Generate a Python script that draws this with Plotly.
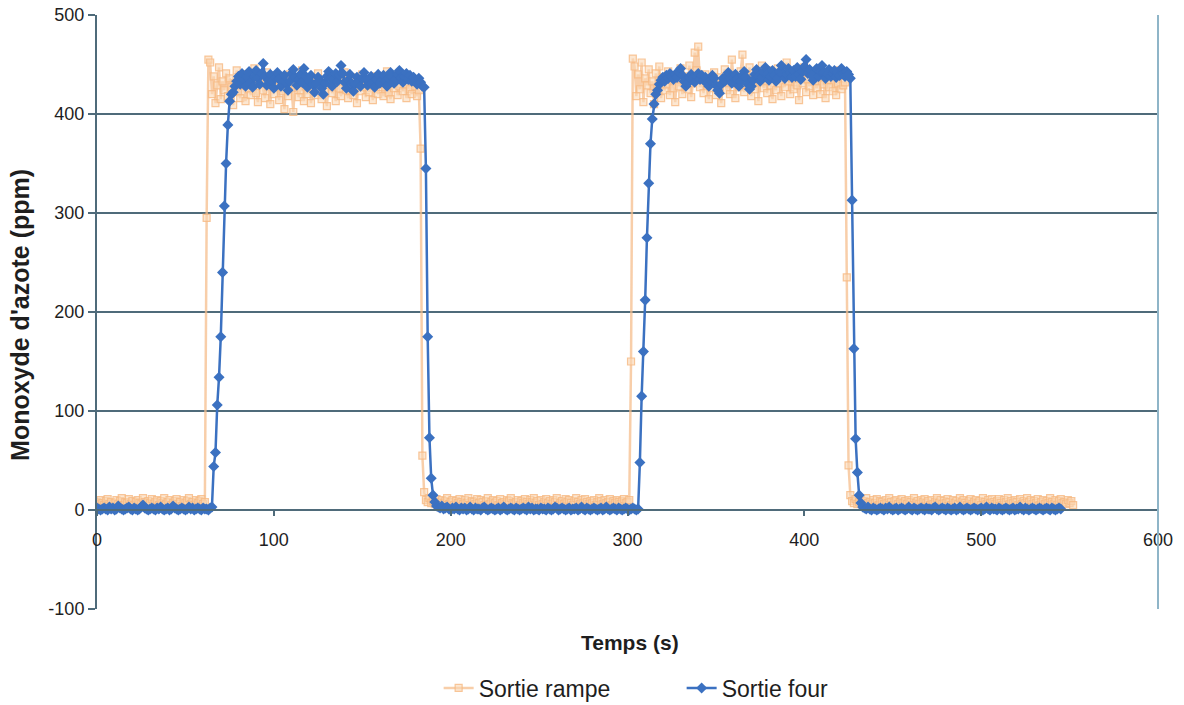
import plotly.graph_objects as go

# ---------------- data (1 s sampling) ----------------
dt = 1.0

# "Sortie four" (blue) segments
four_base1 = [2,1,0,1,2,1,0,3,1,2,
              0,1,4,2,1,0,1,2,3,1,
              0,2,1,0,1,3,5,2,1,0,
              1,2,1,0,2,1,3,1,0,1,
              2,0,1,4,2,1,0,1,2,1,
              0,1,3,1,2,0,1,2,1,0,
              2,1,1,0,2,3]
four_rise1 = [44,58,106,134,175,240,307,350,389,413,420]
four_plat1 = [422,428,433,438,430,441,435,428,437,443,
              432,427,438,444,436,430,441,451,438,429,
              434,440,433,426,437,442,435,428,432,439,
              431,424,433,441,445,437,429,435,440,432,
              446,438,427,433,439,430,422,431,437,434,
              426,420,431,438,443,436,428,435,441,433,
              439,449,441,432,426,434,440,431,423,430,
              437,433,428,436,442,435,429,433,438,432,
              427,435,440,431,434,439,433,428,436,442,
              437,431,435,440,444,436,432,438,441,435,
              439,433,437,434,430,436,432,428,427]
four_fall1 = [345,175,73,32,15,8,4]
four_base2 = [3,2,4,1,2,3,1,0,2,1,
              3,1,0,2,1,2,0,1,3,1,
              0,2,1,1,0,2,3,1,0,1,
              2,1,0,1,2,0,1,3,1,0,
              1,2,1,0,2,1,0,1,2,1,
              0,3,1,2,0,1,1,0,2,1,
              1,0,2,1,0,1,3,2,0,1,
              2,1,0,1,2,0,1,1,2,0,
              1,3,1,0,2,1,0,1,2,1,
              0,1,2,0,1,3,1,0,1,2,
              1,0,2,1,0,1,2,1,0,1,
              2,1,0,1]
four_rise2 = [48,115,160,212,275,330,370,395,410,420]
four_plat2 = [424,430,434,437,433,439,436,441,438,435,
              440,437,443,446,439,433,428,431,437,440,
              436,432,438,441,435,439,434,437,431,428,
              434,439,436,429,424,421,430,436,433,438,
              442,436,431,437,440,435,428,433,439,443,
              437,430,425,428,434,440,445,438,433,437,
              442,447,440,434,438,444,439,433,436,443,
              449,441,436,440,446,442,437,444,438,447,
              440,435,443,448,455,441,445,439,434,441,
              446,438,443,449,442,436,440,445,438,441,
              444,437,442,439,446,441,438,443,440,436]
four_fall2 = [313,163,72,38,15,7,3]
four_base3 = [2,1,3,1,0,2,1,0,1,2,
              1,0,2,1,3,1,0,1,2,0,
              1,2,1,0,1,3,1,0,2,1,
              0,1,2,1,0,2,1,1,0,2,
              3,1,0,1,2,1,0,2,1,0,
              1,2,0,1,3,1,0,1,2,1,
              0,1,2,1,0,1,2,0,1,3,
              1,0,2,1,1,0,2,1,0,1,
              2,1,0,1,2,0,1,1,3,1,
              0,2,1,0,1,2,1,0,1,2,
              1,0,1,2,1,0,2,1,0,1,
              2,1]

# "Sortie rampe" (orange) segments
rampe_base1 = [8,6,10,7,5,9,11,6,8,4,
               7,10,6,9,12,5,8,7,11,6,
               9,5,8,10,7,6,12,8,5,9,
               7,11,6,8,10,5,9,7,12,6,
               8,10,5,7,9,11,6,8,4,10,
               7,9,12,6,8,5,10,7,9,11,
               6,8]
rampe_rise1 = [295]
rampe_plat1 = [455,452,420,438,411,429,447,415,433,424,
               441,418,436,427,409,431,444,422,416,438,
               429,413,440,425,419,434,446,421,412,430,
               437,424,416,442,428,410,433,420,439,427,
               414,436,423,405,431,418,440,426,402,429,
               435,417,424,444,413,428,420,437,411,426,
               432,419,441,425,415,434,422,408,430,438,
               421,427,413,439,426,418,433,442,424,416,
               430,437,419,428,411,435,423,440,427,417,
               434,422,429,414,438,425,420,436,431,418,
               427,443,421,415,432,426,439,419,428,435,
               423,430,416,437,425,420,433,428,418,424]
rampe_fall1 = [365,55,18]
rampe_base2 = [10,8,12,7,9,6,11,8,5,10,
               7,9,12,6,8,10,5,9,7,11,
               8,6,10,7,12,5,9,8,6,11,
               7,10,8,5,9,12,6,8,10,7,
               9,5,11,7,8,6,10,9,12,7,
               6,8,10,5,9,7,11,8,6,10,
               8,12,7,9,5,10,6,8,11,7,
               9,6,10,8,12,5,7,9,6,11,
               8,10,7,5,9,12,8,6,10,7,
               11,8,6,9,7,10,5,8,12,9,
               6,10,7,8,11,5,9,7,10,8,
               6,9,11,7,8,10]
rampe_rise2 = [150]
rampe_plat2 = [456,448,418,440,425,452,412,436,429,445,
               421,433,410,441,427,448,416,437,424,430,
               443,419,435,426,412,439,428,446,420,433,
               438,425,449,417,431,462,444,468,427,436,
               421,440,430,415,434,426,442,419,437,428,
               411,433,445,424,439,420,455,431,416,436,
               427,443,460,422,438,430,447,418,435,425,
               441,413,432,449,426,438,421,444,429,415,
               437,424,446,431,418,440,427,452,433,420,
               436,425,443,429,414,438,431,447,422,435,
               428,441,419,433,426,445,420,437,430,416,
               434,427,442,423,438,419,431,444,425,429,
               432]
rampe_fall2 = [235,45,15]
rampe_base3 = [9,7,11,6,8,10,5,9,12,7,
               8,6,10,7,11,5,9,8,6,10,
               7,12,8,5,9,10,6,8,11,7,
               9,6,10,8,5,12,7,9,6,10,
               8,11,7,9,5,10,6,8,12,7,
               10,6,9,7,11,8,5,10,7,9,
               6,12,8,10,7,5,9,11,6,8,
               10,7,9,5,12,8,6,10,7,11,
               8,6,9,11,7,5,10,8,12,6,
               9,7,10,8,5,11,6,9,7,12,
               8,10,6,9,7,11,5,8,10,6,
               9,7,12,8,6,10,5,9,11,7,
               8,6,10,7,9,5]

x_ticks = [0, 100, 200, 300, 400, 500, 600]
y_ticks = [-100, 0, 100, 200, 300, 400, 500]

four = (four_base1 + four_rise1 + four_plat1 + four_fall1 + four_base2 +
        four_rise2 + four_plat2 + four_fall2 + four_base3)
rampe = (rampe_base1 + rampe_rise1 + rampe_plat1 + rampe_fall1 + rampe_base2 +
         rampe_rise2 + rampe_plat2 + rampe_fall2 + rampe_base3)
t_four = [i * dt for i in range(len(four))]
t_rampe = [i * dt for i in range(len(rampe))]

# ---------------- figure ----------------
FONT = "Liberation Sans, Arial, sans-serif"
AXIS = "#4f6b7a"

fig = go.Figure()
fig.add_trace(go.Scatter(
    x=t_rampe, y=rampe, name="Sortie rampe", mode="lines+markers",
    line=dict(color="rgba(246,190,140,0.75)", width=2.5),
    marker=dict(symbol="square", size=7,
                color="rgba(250,215,180,0.6)",
                line=dict(width=1.2, color="rgba(246,185,130,0.8)")),
))
fig.add_trace(go.Scatter(
    x=t_four, y=four, name="Sortie four", mode="lines+markers",
    line=dict(color="#3b71c1", width=2.5),
    marker=dict(symbol="diamond", size=8.5, color="#3b71c1"),
))

fig.update_layout(
    width=1184, height=705,
    margin=dict(l=97, r=26, t=15, b=96, autoexpand=False),
    paper_bgcolor="white", plot_bgcolor="white",
    font=dict(family=FONT, size=18, color="#1e1e1e"),
    showlegend=True,
    legend=dict(orientation="h", x=0.322, xanchor="left", y=-0.133,
                yanchor="middle", font=dict(size=23), entrywidth=198,
                bgcolor="rgba(0,0,0,0)"),
    xaxis=dict(range=[0, 600], tickvals=x_ticks,
               ticktext=[str(v) for v in x_ticks], anchor="free",
               position=1/6, showline=True, linecolor=AXIS, linewidth=2,
               ticks="outside", ticklen=5, tickcolor=AXIS, tickwidth=1.5,
               showgrid=False, zeroline=False, ticklabelstandoff=8,
               tickfont=dict(size=18)),
    yaxis=dict(range=[-100, 500], tickvals=y_ticks,
               ticktext=[str(v) for v in y_ticks], showline=True,
               linecolor=AXIS, linewidth=2, ticks="outside", ticklen=7,
               tickcolor=AXIS, tickwidth=1.5, showgrid=True,
               gridcolor=AXIS, gridwidth=2, zeroline=False,
               tickfont=dict(size=18)),
    shapes=[dict(type="line", xref="paper", yref="paper", x0=1, x1=1,
                 y0=0, y1=1, line=dict(color="#8fb5c8", width=2))],
    annotations=[
        dict(text="<b>Temps (s)</b>", xref="paper", yref="paper",
             x=0.502, y=-0.057, showarrow=False, font=dict(size=21),
             xanchor="center", yanchor="middle"),
        dict(text="<b>Monoxyde d'azote (ppm)</b>", xref="paper",
             yref="paper", x=-0.0726, y=0.495, textangle=-90,
             showarrow=False, font=dict(size=25),
             xanchor="center", yanchor="middle"),
    ],
)

fig.write_html("out.html", config={"displayModeBar": False},
               post_script="document.body.style.margin='0';")
